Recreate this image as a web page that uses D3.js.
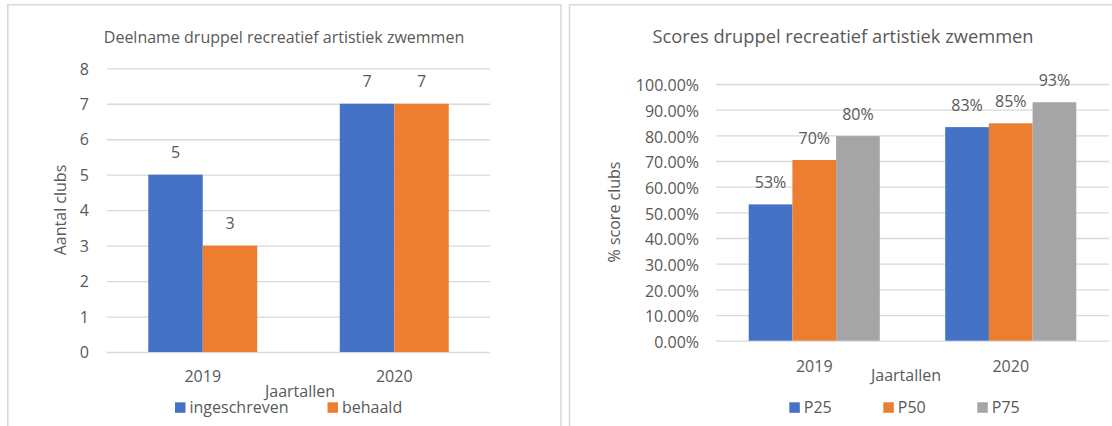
<!DOCTYPE html>
<html lang="nl">
<head>
<meta charset="UTF-8">
<title>Druppel recreatief artistiek zwemmen</title>
<script src="https://cdn.jsdelivr.net/npm/d3@7"></script>
<style>
  body { margin: 0; background: #fff; }
  text { font-family: "Open Sans", "Noto Sans", sans-serif; fill: #595959; }
</style>
</head>
<body>
<script>
// gegevens
var jaren = ["2019", "2020"];
var ingeschreven = [5, 7];
var behaald = [3, 7];
var p25 = [0.531, 0.832];
var p50 = [0.704, 0.847];
var p75 = [0.797, 0.929];
var aantalTicks = [0, 1, 2, 3, 4, 5, 6, 7, 8];
var scoreTicks = [0, 0.1, 0.2, 0.3, 0.4, 0.5, 0.6, 0.7, 0.8, 0.9, 1];

var blauw = "#4472c4", oranje = "#ed7d31", grijs = "#a5a5a5";

var svg = d3.select("body").append("svg")
    .attr("width", 1112)
    .attr("height", 426);

// kaders
svg.append("path")
    .attr("d", "M7.8,430V4.8H561V430")
    .attr("fill", "none").attr("stroke", "#d9d9d9").attr("stroke-width", 1.6);
svg.append("path")
    .attr("d", "M569.5,430V4.8H1116")
    .attr("fill", "none").attr("stroke", "#d9d9d9").attr("stroke-width", 1.6);

function grafiek(o) {
    var g = svg.append("g");
    var x0 = d3.scaleBand().domain(jaren).range([o.left, o.right]);
    var groep = x0.bandwidth() * o.groepDeel;
    var x1 = d3.scaleBand().domain(o.reeksen.map(function (r) { return r.naam; }))
        .range([-groep / 2, groep / 2]);
    var y = d3.scaleLinear().domain(o.domein).range([o.bottom, o.top]);

    // rasterlijnen + y-as
    var ya = g.append("g")
        .attr("transform", "translate(" + o.left + ",0)")
        .call(d3.axisLeft(y).tickValues(o.ticks).tickFormat(o.tickFormat)
            .tickSize(-(o.gridRight - o.left)).tickPadding(o.tickPad));
    ya.select(".domain").remove();
    ya.selectAll("line").attr("stroke", "#d9d9d9").attr("stroke-width", 1.3);
    ya.selectAll("text").attr("font-size", 16).attr("fill", "#595959")
        .attr("font-family", null).attr("dy", o.tickDy);

    // staven
    o.reeksen.forEach(function (r) {
        g.append("g").selectAll("rect")
            .data(r.waarden)
            .enter().append("rect")
            .attr("x", function (d, i) { return x0(jaren[i]) + x0.bandwidth() / 2 + x1(r.naam); })
            .attr("y", function (d) { return y(d); })
            .attr("width", x1.bandwidth())
            .attr("height", function (d) { return o.bottom - y(d); })
            .attr("fill", r.kleur);
        g.append("g").selectAll("text")
            .data(r.waarden)
            .enter().append("text")
            .attr("x", function (d, i) { return x0(jaren[i]) + x0.bandwidth() / 2 + x1(r.naam) + x1.bandwidth() / 2; })
            .attr("y", function (d) { return y(d) - o.labelOffset; })
            .attr("text-anchor", "middle")
            .attr("font-size", 16)
            .text(function (d) { return o.labelFormat(d); });
    });

    // x-as
    var xa = g.append("g")
        .attr("transform", "translate(0," + o.bottom + ")")
        .call(d3.axisBottom(x0).tickSize(0).tickPadding(o.xPad));
    xa.select(".domain").remove();
    xa.selectAll("text").attr("font-size", 16).attr("fill", "#595959").attr("font-family", null);

    // titels
    g.append("text").attr("x", o.titelX).attr("y", o.titelY)
        .attr("text-anchor", "middle").attr("font-size", o.titelSize).text(o.titel);
    g.append("text").attr("x", o.xTitelX).attr("y", o.xTitelY)
        .attr("text-anchor", "middle").attr("font-size", 16).text("Jaartallen");
    g.append("text")
        .attr("transform", "translate(" + o.yTitelX + "," + o.yTitelY + ") rotate(-90)")
        .attr("text-anchor", "middle").attr("font-size", 16).text(o.yTitel);

    // legenda
    var lg = g.selectAll(".leg").data(o.reeksen).enter().append("g")
        .attr("transform", function (d, i) { return "translate(" + o.legX[i] + "," + o.legY + ")"; });
    lg.append("rect").attr("width", 10.5).attr("height", 10.5).attr("fill", function (d) { return d.kleur; });
    lg.append("text").attr("x", 14.5).attr("y", 10.3).attr("font-size", 16)
        .text(function (d) { return d.naam; });
}

grafiek({
    left: 107, right: 490, gridRight: 490, top: 68.3, bottom: 352,
    domein: [0, 8], ticks: aantalTicks, tickFormat: d3.format("d"),
    tickPad: 18, tickDy: "0.36em", xPad: 18.6, groepDeel: 0.569,
    reeksen: [
        { naam: "ingeschreven", waarden: ingeschreven, kleur: blauw },
        { naam: "behaald", waarden: behaald, kleur: oranje }
    ],
    labelFormat: d3.format("d"), labelOffset: 17,
    titel: "Deelname druppel recreatief artistiek zwemmen", titelX: 284, titelY: 42.5, titelSize: 16,
    xTitelX: 300, xTitelY: 396.5,
    yTitel: "Aantal clubs", yTitelX: 66, yTitelY: 210,
    legX: [175, 327.5], legY: 402.3
});

grafiek({
    left: 716, right: 1109, gridRight: 1109, top: 84, bottom: 340.7,
    domein: [0, 1], ticks: scoreTicks, tickFormat: d3.format(".2%"),
    tickPad: 17, tickDy: "0.42em", xPad: 19.6, groepDeel: 0.667,
    reeksen: [
        { naam: "P25", waarden: p25, kleur: blauw },
        { naam: "P50", waarden: p50, kleur: oranje },
        { naam: "P75", waarden: p75, kleur: grijs }
    ],
    labelFormat: d3.format(".0%"), labelOffset: 16.3,
    titel: "Scores druppel recreatief artistiek zwemmen", titelX: 843, titelY: 43.3, titelSize: 18.3,
    xTitelX: 906, xTitelY: 381,
    yTitel: "% score clubs", yTitelX: 620, yTitelY: 212,
    legX: [789.3, 883.3, 977.3], legY: 402.3
});
</script>
</body>
</html>
